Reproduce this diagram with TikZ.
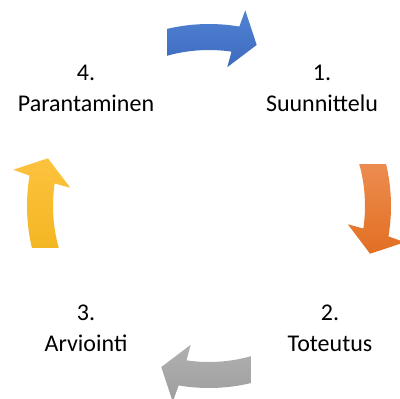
\documentclass[tikz,border=0pt]{standalone}
\usepackage{fontspec}
\setmainfont{Carlito}
\usetikzlibrary{calc}
\tikzset{
  lbl/.style={align=center, font=\fontsize{24}{31}\selectfont, text=black, inner sep=0pt},
  arrblue/.style={top color=c1top, bottom color=c1bot},
  arrorange/.style={top color=c2top, bottom color=c2bot},
  arrgray/.style={top color=c3top, bottom color=c3bot},
  arryellow/.style={top color=c4top, bottom color=c4bot},
}
\definecolor{c1top}{HTML}{5082D2}
\definecolor{c1bot}{HTML}{3E6BBF}
\definecolor{c2top}{HTML}{EC8C50}
\definecolor{c2bot}{HTML}{E26F22}
\definecolor{c3top}{HTML}{B0B0B0}
\definecolor{c3bot}{HTML}{9E9E9E}
\definecolor{c4top}{HTML}{FDC23E}
\definecolor{c4bot}{HTML}{F3B623}
\newcommand\cycarrow[2]{%
  \shade[#2] (103.3+#1:182) arc[start angle=103.3+#1, end angle=80.4+#1, radius=182]
    -- (79.5+#1:199) -- (73.5+#1:168) -- (82.5+#1:140) -- (81.7+#1:156)
    arc[start angle=81.7+#1, end angle=105.6+#1, radius=156] -- cycle;}
\begin{document}
\begin{tikzpicture}[x=1pt,y=1pt]
\useasboundingbox (0,0) rectangle (400,399);
\fill[white] (0,0) rectangle (400,399);
\begin{scope}[shift={(209,193)}]
\cycarrow{0}{arrblue}
\cycarrow{-90}{arrorange}
\cycarrow{-180}{arrgray}
\cycarrow{-270}{arryellow}
\end{scope}
\node[lbl] (t1) at (322,311) {1.\\Suunnittelu};
\node[lbl] (t2) at (330,71) {2.\\Toteutus};
\node[lbl] (t3) at (86,71) {3.\\Arviointi};
\node[lbl] (t4) at (86,311) {4.\\Parantaminen};
\end{tikzpicture}
\end{document}
